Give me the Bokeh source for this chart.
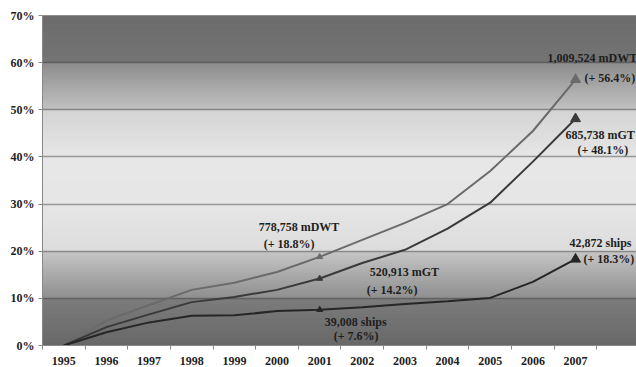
import numpy as np
from bokeh.plotting import figure
from bokeh.models import Range1d, FixedTicker
from bokeh.core.properties import value
from bokeh.embed import file_html
from bokeh.resources import INLINE

# ---- data ----
years = ["1995", "1996", "1997", "1998", "1999", "2000", "2001",
         "2002", "2003", "2004", "2005", "2006", "2007"]
dwt = [0, 5.3, 8.6, 11.8, 13.3, 15.6, 18.8, 22.4, 26.0, 30.0, 37.0, 45.5, 56.4]
gt = [0, 3.9, 6.6, 9.2, 10.3, 11.8, 14.2, 17.5, 20.3, 24.8, 30.3, 39.0, 48.1]
ships = [0, 2.8, 4.9, 6.3, 6.4, 7.3, 7.6, 8.1, 8.8, 9.4, 10.1, 13.5, 18.3]
y_ticks = [0, 10, 20, 30, 40, 50, 60, 70]
y_tick_labels = ["0%", "10%", "20%", "30%", "40%", "50%", "60%", "70%"]

dwt_2001 = ["778,758 mDWT", "(+ 18.8%)"]
gt_2001 = ["520,913 mGT", "(+ 14.2%)"]
ships_2001 = ["39,008 ships", "(+ 7.6%)"]
dwt_2007 = ["1,009,524 mDWT", "(+ 56.4%)"]
gt_2007 = ["685,738 mGT", "(+ 48.1%)"]
ships_2007 = ["42,872 ships", "(+ 18.3%)"]

# ---- figure ----
p = figure(width=636, height=367, output_backend="svg", toolbar_location=None,
           x_range=Range1d(-0.5, 13.43), y_range=Range1d(0, 70))
p.min_border_left = 42
p.min_border_right = 0
p.min_border_top = 15
p.min_border_bottom = 22
p.outline_line_color = None
p.background_fill_color = "#e6e6e6"
p.border_fill_color = "white"

# background gradient bands (decoration)
bands = [(0, 10, 0x68, 0x7c), (10, 20, 0x8e, 0xc6), (20, 30, 0xdc, 0xe6),
         (30, 40, 0xe6, 0xe7), (40, 50, 0xe6, 0xd4), (50, 60, 0xc2, 0x8c),
         (60, 70, 0x74, 0x6c)]
bots, tops, cols = [], [], []
for b0, b1, c0, c1 in bands:
    n = 40
    edges = np.linspace(b0, b1, n + 1)
    for i in range(n):
        t = (i + 0.5) / n
        c = int(round(c0 + (c1 - c0) * t))
        bots.append(edges[i])
        tops.append(edges[i + 1] + 0.35)
        cols.append("#%02x%02x%02x" % (c, c, c))
bg = p.quad(left=-0.5, right=14, bottom=bots, top=tops, fill_color=cols,
            line_color=None)
bg.level = "image"

p.xgrid.grid_line_color = None
p.ygrid.grid_line_color = "#3a3a3a"
p.ygrid.grid_line_alpha = 0.45
p.ygrid.grid_line_width = 1.5

xs = list(range(len(years)))
font = value("Liberation Serif")

p.line(xs, dwt, line_color="#6a6a6a", line_width=2)
p.line(xs, gt, line_color="#3a3a3a", line_width=2)
p.line(xs, ships, line_color="#262626", line_width=2)

for series, col in [(dwt, "#6a6a6a"), (gt, "#3a3a3a"), (ships, "#262626")]:
    p.scatter([6], [series[6]], marker="triangle", size=6, fill_color=col,
              line_color=col)
    p.scatter([12], [series[12]], marker="triangle", size=10, fill_color=col,
              line_color=col)

def label(xi, series, txt, dx, dy):
    p.text(x=[xi], y=[series[xi]], text=[txt], x_offset=dx, y_offset=dy,
           text_font=font, text_font_style="bold", text_font_size="12px",
           text_color="#1e1e1e", text_align="left", text_baseline="middle")

label(6, dwt, dwt_2001[0], -61, -30)
label(6, dwt, dwt_2001[1], -56, -13)
label(6, gt, gt_2001[0], 50, -7)
label(6, gt, gt_2001[1], 47, 11)
label(6, ships, ships_2001[0], 5, 12)
label(6, ships, ships_2001[1], 14, 26)
label(12, dwt, dwt_2007[0], -28, -22)
label(12, dwt, dwt_2007[1], 9, -2)
label(12, gt, gt_2007[0], -10, 16)
label(12, gt, gt_2007[1], 2, 31)
label(12, ships, ships_2007[0], -6, -16)
label(12, ships, ships_2007[1], 8, 0)

# axes
xa = p.xaxis[0]
xa.ticker = FixedTicker(ticks=xs, minor_ticks=[i - 0.5 for i in range(15)])
xa.major_label_overrides = {i: y for i, y in zip(xs, years)}
xa.major_tick_out = 0
xa.major_tick_in = 0
xa.minor_tick_out = 4
xa.minor_tick_in = 0
xa.minor_tick_line_color = "#888888"
xa.axis_line_color = "#888888"
xa.major_label_standoff = 7
xa.major_label_text_font = "Liberation Serif"
xa.major_label_text_font_style = "bold"
xa.major_label_text_font_size = "12px"
xa.major_label_text_color = "#1e1e1e"

ya = p.yaxis[0]
ya.ticker = FixedTicker(ticks=y_ticks, minor_ticks=[])
ya.major_label_overrides = {t: l for t, l in zip(y_ticks, y_tick_labels)}
ya.major_tick_out = 4
ya.major_tick_in = 0
ya.major_tick_line_color = "#888888"
ya.axis_line_color = "#888888"
ya.major_label_standoff = 4
ya.major_label_text_font = "Liberation Serif"
ya.major_label_text_font_style = "bold"
ya.major_label_text_font_size = "12px"
ya.major_label_text_color = "#1e1e1e"

open("out.html", "w").write(file_html(p, INLINE))
